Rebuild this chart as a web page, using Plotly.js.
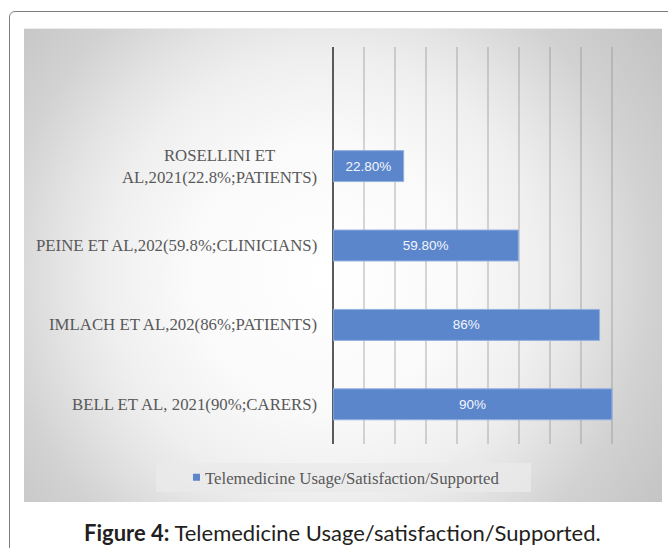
<!DOCTYPE html>
<html>
<head>
<meta charset="utf-8">
<script src="https://cdn.plot.ly/plotly-3.0.1.min.js"></script>
<style>
  html, body { margin: 0; padding: 0; background: #ffffff; }
  #page { position: relative; width: 668px; height: 548px; overflow: hidden; }
  /* rounded frame around the figure */
  #frame {
    position: absolute; left: 9px; top: 11px; width: 720px; height: 620px;
    border: 1px solid #808080; border-radius: 6px; box-sizing: border-box;
  }
  /* chart area with its soft radial shading */
  #chartbg {
    position: absolute; left: 24px; top: 28px; width: 638px; height: 474px;
    border-top: 1px solid #ececec;
    box-sizing: border-box;
    background: radial-gradient(circle farthest-corner at 47% 52%,
      #ffffff 0%, #fafafa 32%, #efefef 52%, #e4e4e4 63%, #d2d2d2 78%, #c2c2c2 100%);
  }
  #chart { position: absolute; left: 0; top: 0; width: 668px; height: 548px; }
</style>
</head>
<body>
<div id="page">
  <div id="frame"></div>
  <div id="chartbg"></div>
  <div id="chart"></div>
</div>
<script>
// Studies, bottom to top as they sit on the category axis
const categories = [
  'BELL ET AL, 2021(90%;CARERS)',
  'IMLACH ET AL,202(86%;PATIENTS)',
  'PEINE ET AL,202(59.8%;CLINICIANS)',
  'ROSELLINI ET<br>AL,2021(22.8%;PATIENTS)'
];
// Share of respondents (%)
const values = [90, 86, 59.8, 22.8];
// Value labels shown inside the bars
const valueLabels = ['90%', '86%', '59.80%', '22.80%'];
const seriesName = 'Telemedicine Usage/Satisfaction/Supported';
const captionBold = 'Figure 4:';
const captionText = 'Telemedicine Usage/satisfaction/Supported.';

const barColor = '#5b86cc';
const labelColor = '#595959';
const serif = 'Liberation Serif, Times New Roman, serif';

const trace = {
  type: 'bar',
  orientation: 'h',
  name: seriesName,
  y: categories,
  x: values,
  text: valueLabels,
  texttemplate: '%{text}',
  textposition: 'inside',
  insidetextanchor: 'middle',
  textangle: 0,
  constraintext: 'none',
  textfont: { family: 'Liberation Sans, Arial, sans-serif', size: 13.5, color: '#f4f6fb' },
  marker: { color: barColor, line: { color: '#93b1e0', width: 1 } },
  hoverinfo: 'skip',
  showlegend: true
};

// Category names drawn to the left of the axis, each block centred on its bar
const catAnnotations = categories.map(c => ({
  xref: 'paper', yref: 'y',
  x: 0, y: c,
  xanchor: 'right', yanchor: 'middle',
  xshift: -14,
  text: c,
  align: 'center',
  showarrow: false,
  font: { family: serif, size: 16.8, color: labelColor }
}));

const layout = {
  width: 668,
  height: 548,
  margin: { l: 333, r: 25, t: 47, b: 104, pad: 0 },
  paper_bgcolor: 'rgba(0,0,0,0)',
  plot_bgcolor: 'rgba(0,0,0,0)',
  bargap: 0.61,
  xaxis: {
    range: [0, 100],
    dtick: 10,
    tick0: 0,
    showgrid: true,
    gridcolor: 'rgba(140,140,140,0.35)',
    gridwidth: 1.5,
    zeroline: true,
    zerolinecolor: '#5a5a5a',
    zerolinewidth: 2.5,
    showticklabels: false,
    ticks: '',
    fixedrange: true
  },
  yaxis: {
    type: 'category',
    categoryorder: 'array',
    categoryarray: categories,
    range: [-0.5, 4.5],
    showgrid: false,
    zeroline: false,
    showline: false,
    showticklabels: false,
    ticks: '',
    fixedrange: true
  },
  showlegend: true,
  legend: {
    orientation: 'h',
    x: -0.542, xanchor: 'left',
    y: -0.084, yanchor: 'middle',
    bgcolor: 'rgba(0,0,0,0)',
    borderwidth: 0,
    itemwidth: 30,
    font: { family: serif, size: 16.8, color: labelColor }
  },
  shapes: [
    {
      // legend panel
      type: 'rect', xref: 'paper', yref: 'paper', layer: 'below',
      x0: -0.571, x1: 0.639, y0: -0.121, y1: -0.048,
      fillcolor: 'rgba(234,234,234,0.8)',
      line: { width: 0 }
    }
  ],
  annotations: catAnnotations.concat([
    {
      xref: 'paper', yref: 'paper',
      x: 0.032, y: -0.224,
      xanchor: 'center', yanchor: 'middle',
      showarrow: false,
      text: '<b>' + captionBold + '</b> ' + captionText,
      font: { family: 'Lato, Open Sans, sans-serif', size: 22, color: '#231f20' }
    }
  ])
};

Plotly.newPlot('chart', [trace], layout, { displayModeBar: false, staticPlot: true }).then(gd => {
  // compact legend swatch sitting close to its text
  gd.querySelectorAll('.legendpoints path').forEach(p => {
    p.setAttribute('d', 'M15,3.5H8V-3.5H15Z');
    p.style.strokeWidth = '0px';
  });
});
</script>
</body>
</html>
